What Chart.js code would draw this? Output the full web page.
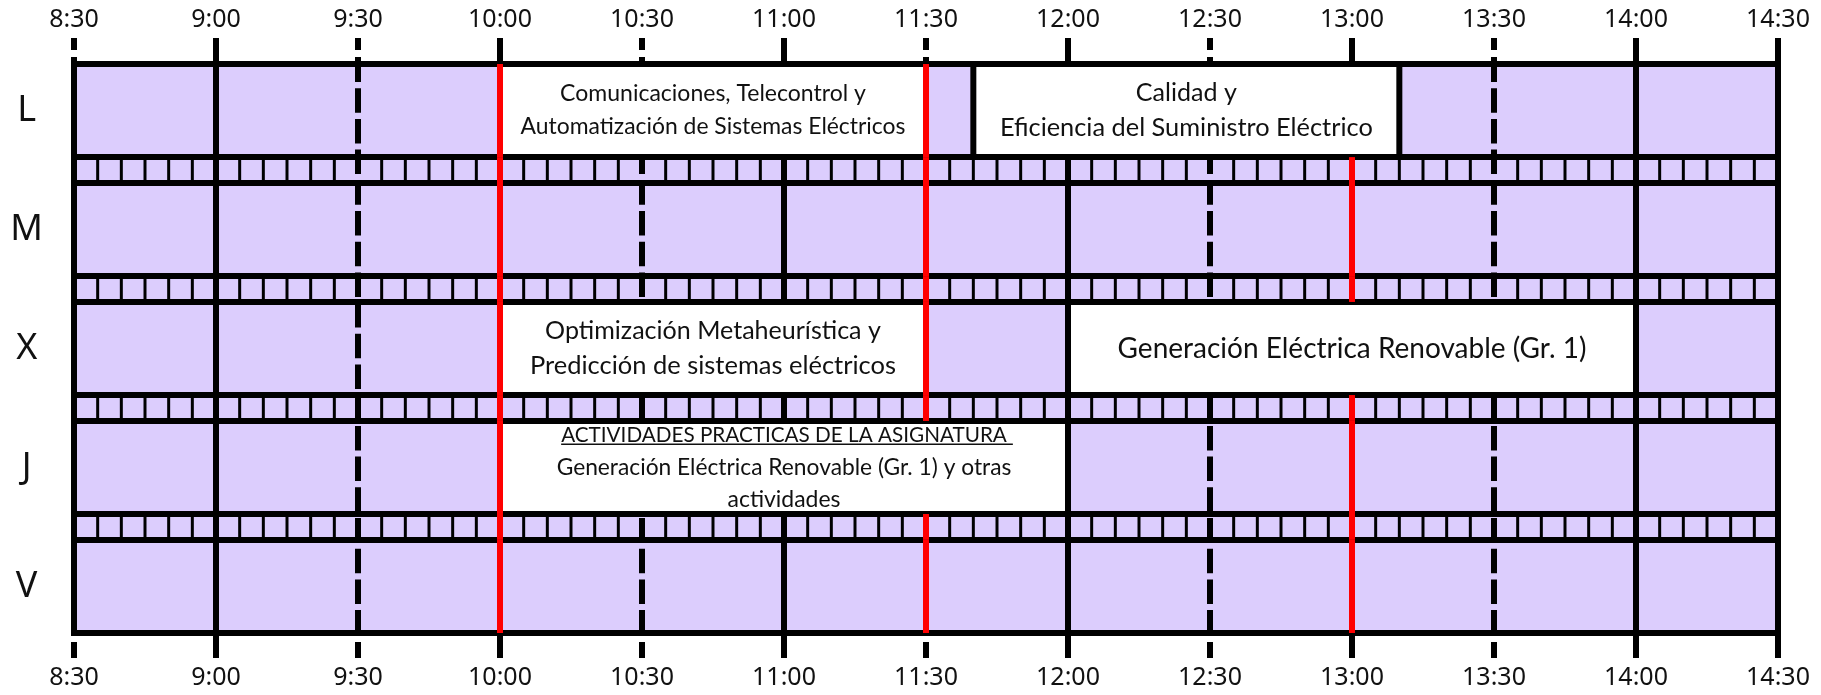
<!DOCTYPE html>
<html>
<head>
<meta charset="utf-8">
<script src="https://cdn.jsdelivr.net/npm/chart.js@4.4.1/dist/chart.umd.min.js"></script>
<style>
  html, body { margin: 0; padding: 0; background: #fff; }
  #wrap { width: 1821px; height: 695px; }
</style>
</head>
<body>
<div id="wrap"><canvas id="horario"></canvas></div>
<script>
// DATA
const days = ['L', 'M', 'X', 'J', 'V'];
const tickLabels = ['8:30', '9:00', '9:30', '10:00', '10:30', '11:00', '11:30',
  '12:00', '12:30', '13:00', '13:30', '14:00', '14:30'];
const sessionDay = ['L', 'L', 'X', 'X', 'J'];
const sessionStart = ['10:00', '11:40', '10:00', '12:00', '10:00'];
const sessionEnd = ['11:30', '13:10', '11:30', '14:00', '12:00'];
const sessionText = [
  ['Comunicaciones, Telecontrol y', 'Automatización de Sistemas Eléctricos'],
  ['Calidad y', 'Eficiencia del Suministro Eléctrico'],
  ['Optimización Metaheurística y', 'Predicción de sistemas eléctricos'],
  ['Generación Eléctrica Renovable (Gr. 1)'],
  ['ACTIVIDADES PRACTICAS DE LA ASIGNATURA', 'Generación Eléctrica Renovable (Gr. 1) y otras', 'actividades']
];
const markTimes = ['10:00', '11:30', '13:00']; // red lines
const slotMinutes = 5; // small cells in the breaks

// LAYOUT HELPERS
const ROW = 3.6, GAP = 1;
const toMin = s => { const [h, m] = s.split(':').map(Number); return h * 60 + m; };
const rowTop = i => i * (ROW + GAP);
const rowCenter = i => rowTop(i) + ROW / 2;
const yMax = days.length * ROW + (days.length - 1) * GAP;
const xMin = toMin(tickLabels[0]);
const xMax = toMin(tickLabels[tickLabels.length - 1]);
const isHalf = c => c.tick && c.tick.value % 60 === 30;
const isEdge = c => c.index === 0 || c.index === tickLabels.length - 1;

// TIMETABLE PLUGIN
const timetable = {
  id: 'timetable',
  beforeDraw(chart, args, o) {
    const { ctx, chartArea: a, scales: { x, y } } = chart;
    ctx.save();
    ctx.fillStyle = o.fill;
    ctx.fillRect(a.left, a.top, a.right - a.left, a.bottom - a.top);
    ctx.strokeStyle = o.line;
    ctx.lineWidth = o.thinWidth;
    for (let i = 0; i < days.length - 1; i++) {
      const y0 = y.getPixelForValue(rowTop(i) + ROW);
      const y1 = y.getPixelForValue(rowTop(i + 1));
      for (let m = xMin + slotMinutes; m < xMax; m += slotMinutes) {
        if (m % 30 === 0) continue;
        const px = x.getPixelForValue(m);
        ctx.beginPath(); ctx.moveTo(px, y0); ctx.lineTo(px, y1); ctx.stroke();
      }
    }
    ctx.restore();
  },
  afterDatasetsDraw(chart, args, o) {
    const { ctx, chartArea: a, scales: { x, y } } = chart;
    const half = o.lineWidth / 2;
    const vline = (px, v0, v1, color) => {
      ctx.strokeStyle = color;
      ctx.beginPath(); ctx.moveTo(px, v0); ctx.lineTo(px, v1); ctx.stroke();
    };
    ctx.save();
    ctx.lineWidth = o.lineWidth;
    ctx.strokeStyle = o.line;

    // row rules
    for (let i = 0; i < days.length; i++) {
      [rowTop(i), rowTop(i) + ROW].forEach(v => {
        const py = y.getPixelForValue(v);
        ctx.beginPath(); ctx.moveTo(a.left - half, py); ctx.lineTo(a.right + half, py); ctx.stroke();
      });
    }
    vline(x.getPixelForValue(xMin), a.top - half, a.bottom + half, o.line);
    vline(x.getPixelForValue(xMax), a.top - half, a.bottom + half, o.line);

    // session boxes: edges and text
    const meta = chart.getDatasetMeta(0);
    meta.data.forEach((bar, i) => {
      const p = bar.getProps(['x', 'base', 'y', 'height'], true);
      const l = Math.min(p.x, p.base), r = Math.max(p.x, p.base);
      vline(l, p.y - p.height / 2, p.y + p.height / 2, o.line);
      vline(r, p.y - p.height / 2, p.y + p.height / 2, o.line);
      const lines = sessionText[i];
      const gap = o.lineGaps[i];
      ctx.fillStyle = o.text;
      ctx.textAlign = 'center';
      ctx.textBaseline = 'middle';
      lines.forEach((t, k) => {
        // size each line so it spans the width it has in the original sheet
        ctx.font = '20px ' + o.fontFamily;
        const size = 20 * o.textWidths[i][k] / ctx.measureText(t).width;
        ctx.font = size.toFixed(2) + 'px ' + o.fontFamily;
        const ty = p.y + (k - (lines.length - 1) / 2) * gap;
        ctx.fillText(t, (l + r) / 2, ty);
        if (k === 0 && o.underline[i]) {
          const w = ctx.measureText(t).width;
          ctx.save();
          ctx.lineWidth = 1.5;
          ctx.strokeStyle = o.text;
          ctx.beginPath();
          ctx.moveTo((l + r) / 2 - w / 2, ty + size * 0.45);
          ctx.lineTo((l + r) / 2 + w / 2 + 6, ty + size * 0.45);
          ctx.stroke();
          ctx.restore();
        }
      });
    });

    // red marks, hidden inside sessions
    markTimes.forEach(t => {
      const m = toMin(t), px = x.getPixelForValue(m);
      for (let i = 0; i < days.length; i++) {
        const covered = sessionDay.some((d, k) =>
          d === days[i] && toMin(sessionStart[k]) < m && m < toMin(sessionEnd[k]));
        if (!covered) vline(px, y.getPixelForValue(rowTop(i)), y.getPixelForValue(rowTop(i) + ROW), o.mark);
        if (i < days.length - 1) vline(px, y.getPixelForValue(rowTop(i) + ROW), y.getPixelForValue(rowTop(i + 1)), o.mark);
      }
    });
    ctx.restore();
  }
};

const tickFont = { family: 'Noto Sans', size: 25 };

new Chart(document.getElementById('horario'), {
  type: 'bar',
  data: {
    datasets: [{
      data: sessionDay.map((d, i) => ({
        y: rowCenter(days.indexOf(d)),
        x: [toMin(sessionStart[i]), toMin(sessionEnd[i])]
      })),
      backgroundColor: '#ffffff',
      borderWidth: 0,
      categoryPercentage: 1,
      barPercentage: ROW / (ROW + GAP)
    }]
  },
  options: {
    indexAxis: 'y',
    responsive: true,
    maintainAspectRatio: false,
    animation: false,
    events: [],
    layout: { padding: { left: 0, right: 43, top: 0, bottom: 0 } },
    scales: {
      y: {
        type: 'linear', reverse: true, min: 0, max: yMax, offset: false,
        afterBuildTicks: s => { s.ticks = days.map((d, i) => ({ value: rowCenter(i) })); },
        afterFit: s => { s.width = 74; },
        ticks: {
          callback: (v, i) => days[i],
          font: { family: 'Noto Sans', size: 36 }, color: '#111',
          crossAlign: 'center', padding: 31
        },
        grid: { display: false, drawTicks: false, offset: false },
        border: { display: false }
      },
      x: {
        type: 'linear', position: 'top', min: xMin, max: xMax, beginAtZero: false,
        afterBuildTicks: s => { s.ticks = tickLabels.map(t => ({ value: toMin(t) })); },
        afterFit: s => { s.height = 64; },
        ticks: { callback: (v, i) => tickLabels[i], font: tickFont, color: '#111', padding: 3, maxRotation: 0, autoSkip: false },
        grid: {
          color: c => (c.tick && c.tick.value % 60 === 0) ? '#000' : 'rgba(0,0,0,0)',
          lineWidth: 6, tickLength: 26, tickWidth: 6, tickColor: '#000',
          tickBorderDash: c => (isHalf(c) && c.index < tickLabels.length - 1) ? [12, 7] : []
        },
        border: { display: false }
      },
      x2: {
        type: 'linear', position: 'bottom', min: xMin, max: xMax, beginAtZero: false,
        afterBuildTicks: s => { s.ticks = tickLabels.map(t => ({ value: toMin(t) })); },
        afterFit: s => { s.height = 62; },
        ticks: { callback: (v, i) => tickLabels[i], font: tickFont, color: '#111', padding: 5, maxRotation: 0, autoSkip: false },
        grid: {
          color: c => (isHalf(c) && !isEdge(c)) ? '#000' : 'rgba(0,0,0,0)',
          lineWidth: 6, tickLength: 25, tickWidth: 6, tickColor: '#000',
          tickBorderDash: c => (isHalf(c) && c.index < tickLabels.length - 1) ? [16, 9] : [],
          tickBorderDashOffset: 16
        },
        border: { display: false, dash: [24.5, 6.2], dashOffset: 6.5 }
      }
    },
    plugins: {
      legend: { display: false },
      tooltip: { enabled: false },
      timetable: {
        fill: '#dccdfd', line: '#000', mark: '#ff0000', text: '#111',
        lineWidth: 6, thinWidth: 3,
        fontFamily: 'Lato',
        textWidths: [[306, 385], [101, 373], [336, 366], [469], [446, 455, 113]],
        lineGaps: [33, 35, 35, 0, 32.5],
        underline: [false, false, false, false, true]
      }
    }
  },
  plugins: [timetable]
});
</script>
</body>
</html>
